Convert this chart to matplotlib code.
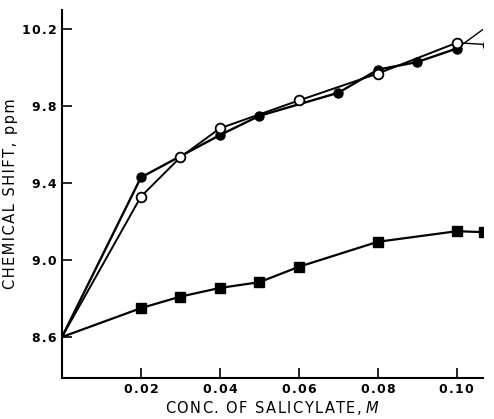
import matplotlib.pyplot as plt

# data
x_filled = [0.0, 0.02, 0.04, 0.05, 0.07, 0.08, 0.09, 0.10]
y_filled = [8.6, 9.43, 9.65, 9.75, 9.87, 9.99, 10.03, 10.10]
x_filled_tail = [0.10, 0.108]
y_filled_tail = [10.10, 10.22]

x_open = [0.0, 0.02, 0.03, 0.04, 0.06, 0.08, 0.10]
y_open = [8.6, 9.33, 9.535, 9.685, 9.83, 9.97, 10.13]
x_open_tail = [0.10, 0.108]
y_open_tail = [10.13, 10.12]

x_sq = [0.0, 0.02, 0.03, 0.04, 0.05, 0.06, 0.08, 0.10, 0.107]
y_sq = [8.6, 8.75, 8.81, 8.855, 8.885, 8.965, 9.095, 9.15, 9.145]

xticks = [0.02, 0.04, 0.06, 0.08, 0.10]
yticks = [8.6, 9.0, 9.4, 9.8, 10.2]


def spaced(s, sp="\u200a"):
    # letter spacing like the old typeset figure
    return sp.join(s)


plt.rcParams['font.family'] = ['DejaVu Sans']

fig = plt.figure(figsize=(4.94, 4.19), dpi=100)
ax = fig.add_axes([0.1255, 0.098, 0.852, 0.878])

ax.plot(x_filled, y_filled, color='black', lw=1.7)
ax.plot(x_filled_tail, y_filled_tail, color='black', lw=1.0)
ax.plot(x_filled[1:], y_filled[1:], 'o', color='black', ms=6.5, ls='none')

ax.plot(x_open, y_open, color='black', lw=1.4)
ax.plot(x_open_tail, y_open_tail, color='black', lw=1.0)
ax.plot(x_open[1:] + x_open_tail[1:], y_open[1:] + y_open_tail[1:], 'o',
        mfc='white', mec='black', mew=1.3, ms=7, ls='none')

ax.plot(x_sq, y_sq, color='black', lw=1.6)
ax.plot(x_sq[1:], y_sq[1:], 's', color='black', ms=7, ls='none')

ax.set_xlim(0, 0.1066)
ax.set_ylim(8.387, 10.3)
ax.set_xticks(xticks)
ax.set_xticklabels([spaced(f"{t:.2f}") for t in xticks], fontweight='bold')
ax.set_yticks(yticks)
ax.set_yticklabels([spaced(f"{t:.1f}") for t in yticks], fontweight='bold')
ax.tick_params(direction='in', length=7, width=1.2, labelsize=9, pad=4)

for s in ['top', 'right']:
    ax.spines[s].set_visible(False)
for s in ['left', 'bottom']:
    ax.spines[s].set_linewidth(1.5)

ax.set_xlabel(spaced("CONC. OF SALICYLATE,") + " $\\it{M}$", fontsize=10.5, labelpad=2)
ax.set_ylabel(spaced("CHEMICAL SHIFT, ppm"), fontsize=10.5, labelpad=3)

fig.savefig('out.png', dpi=100)
